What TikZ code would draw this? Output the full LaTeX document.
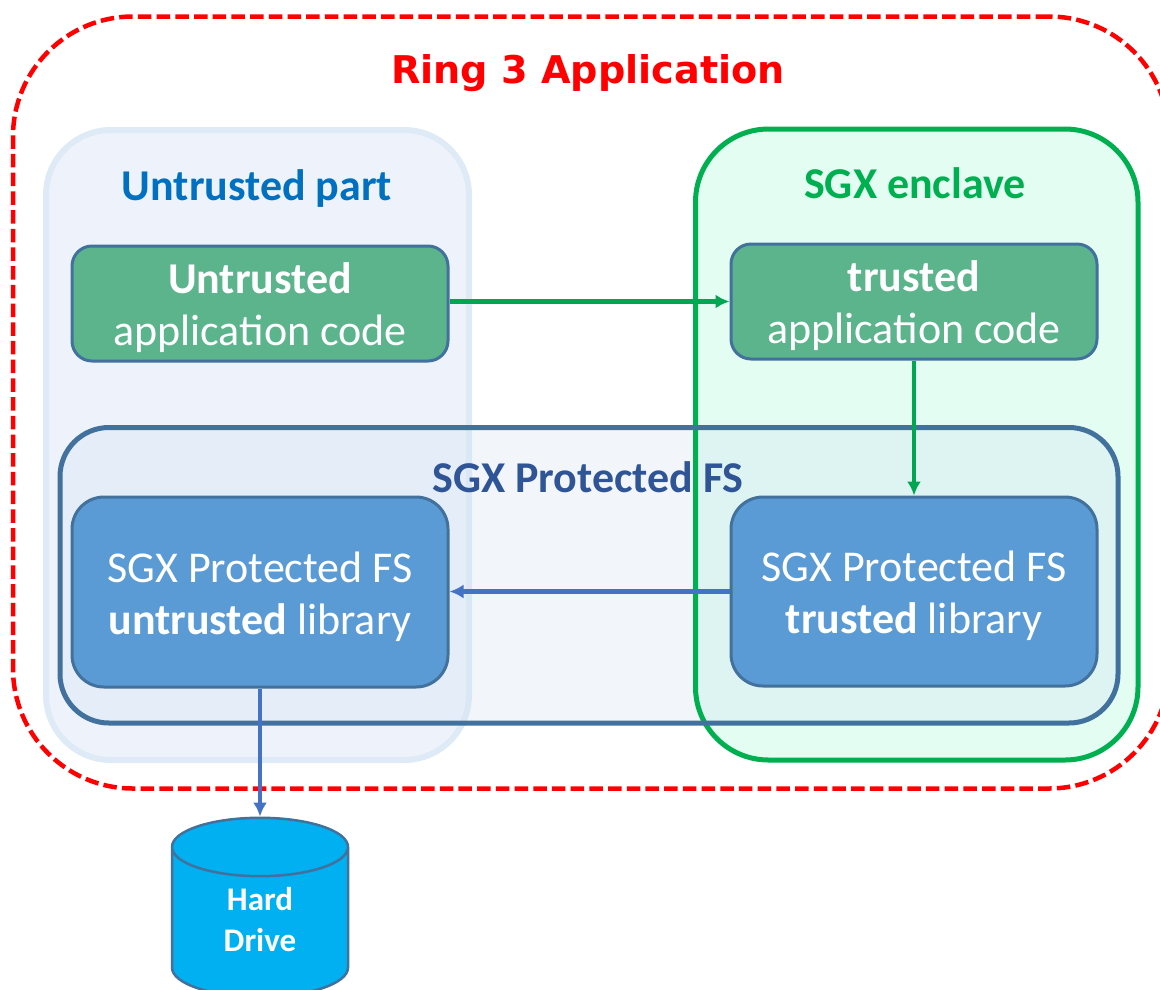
\documentclass[tikz,border=0pt]{standalone}
\usepackage{fontspec}
\setmainfont{Carlito}
\newfontfamily\titlefont{DejaVu Sans}
\usetikzlibrary{arrows.meta,shapes.geometric}
\definecolor{ringred}{HTML}{FF0000}
\definecolor{partblue}{HTML}{0070C0}
\definecolor{partedge}{HTML}{DEEAF6}
\definecolor{partfill}{HTML}{EEF3FB}
\definecolor{sgxgreen}{HTML}{00B050}
\definecolor{sgxfill}{HTML}{E3FDF3}
\definecolor{fsfill}{HTML}{D3E1F2}
\definecolor{fstext}{HTML}{2F5597}
\definecolor{boxedge}{HTML}{41719C}
\definecolor{codefill}{HTML}{5BB48C}
\definecolor{libfill}{HTML}{5B9BD5}
\definecolor{drivefill}{HTML}{00B0F0}
\definecolor{linkgreen}{HTML}{00A651}
\definecolor{linkblue}{HTML}{4472C4}
\newcommand{\topgap}{\rule{0pt}{40pt}}
\tikzset{
  codebox/.style={draw=boxedge, line width=3pt, fill=codefill, text=white, rounded corners=20pt,
    align=center, font=\fontsize{44}{52}\selectfont, inner sep=0pt},
  libbox/.style={draw=boxedge, line width=3pt, fill=libfill, text=white, rounded corners=32pt,
    align=center, font=\fontsize{44}{52}\selectfont, inner sep=0pt},
  heading/.style={font=\fontsize{44}{52}\selectfont\bfseries},
  greenlink/.style={draw=linkgreen, line width=4.5pt, -{Latex[length=14pt,width=14pt]}},
  bluelink/.style={draw=linkblue, line width=4.5pt, -{Latex[length=14pt,width=14pt]}}
}
\begin{document}
\begin{tikzpicture}[x=1pt,y=-1pt]
  \useasboundingbox (0,0) rectangle (1160,989);
  \begin{scope}
    \clip (0,0) rectangle (1160,989);

    % outer ring
    \node (ring) at (591,402.5) [draw=ringred, dash pattern=on 13.5pt off 5.2pt, line width=4.5pt, rounded corners=120pt,
      minimum width=1156pt, minimum height=772pt] {};
    \node (ringtitle) at (588,73) {\titlefont\fontsize{38.2}{46}\selectfont\bfseries\color{ringred}Ring 3 Application};

    % the two parts, fills first
    \node (part) at (257.5,445) [draw=partedge, line width=6pt, fill=partfill, rounded corners=65pt,
      minimum width=423pt, minimum height=630pt] {};
    \node (parttitle) at (257,189) [heading, text=partblue] {Untrusted part};
    \node (enclave) at (916.75,444.5) [fill=sgxfill, rounded corners=73pt, outer sep=0pt,
      minimum width=442.5pt, minimum height=631pt] {};
    \node (enclavetitle) at (915,183) [heading, text=sgxgreen] {SGX enclave};

    \node (fs) at (589,575.25) [fill=fsfill, fill opacity=.3, rounded corners=49pt, outer sep=0pt,
      minimum width=1058pt, minimum height=295.5pt] {};
    \node (fstitle) at (588,477) [heading, text=fstext] {SGX Protected FS};

    % the edges go over the fs title
    \draw [draw=sgxgreen, line width=5pt, rounded corners=73pt] (enclave.north west) rectangle (enclave.south east);
    \draw [draw=boxedge, line width=5pt, rounded corners=49pt] (fs.north west) rectangle (fs.south east);

    % code and library boxes
    \node (ucode) at (260,303.5) [codebox, minimum width=376pt, minimum height=115pt] {\topgap\textbf{Untrusted}\\application code};
    \node (tcode) at (914,301.5) [codebox, minimum width=366pt, minimum height=115pt] {\topgap\textbf{trusted}\\application code};
    \node (ulib) at (260,592) [libbox, minimum width=376pt, minimum height=190pt] {\topgap SGX Protected FS\\\textbf{untrusted} library};
    \node (tlib) at (914,591.5) [libbox, minimum width=366pt, minimum height=189pt] {\topgap SGX Protected FS\\\textbf{trusted} library};

    % drive
    \node (drive) at (260,922.5) [cylinder, shape border rotate=90, aspect=.8, draw=boxedge, line width=2.5pt, fill=drivefill,
      cylinder uses custom fill, cylinder body fill=drivefill, cylinder end fill=drivefill, inner sep=0pt,
      minimum width=176pt, minimum height=179pt] {\phantom{\rule{73pt}{74pt}}};
    \node (drivelabel) at (260,919.5) [text=white, align=center, font=\fontsize{33}{41}\selectfont\bfseries, inner sep=0pt] {Hard\\Drive};

    % links
    \draw [greenlink] (tcode.west -| ucode.east) -- (tcode.west);
    \draw [greenlink] (tcode.south) -- (tlib.north);
    \draw [bluelink] (tlib.west) -- (tlib.west -| ulib.east);
    \draw [bluelink] (ulib.south) -- (drive.north);
  \end{scope}
\end{tikzpicture}
\end{document}
